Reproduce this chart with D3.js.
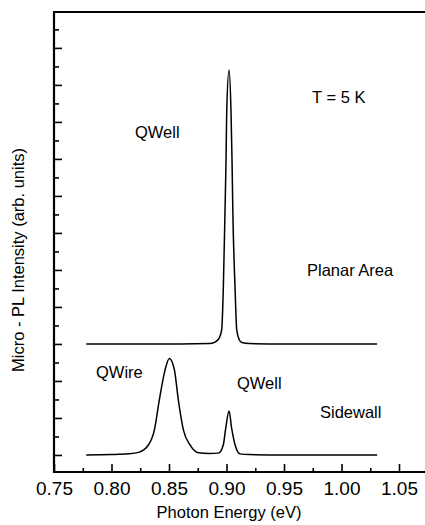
<!DOCTYPE html>
<html>
<head>
<meta charset="utf-8">
<script src="https://cdn.jsdelivr.net/npm/d3@7"></script>
<style>
  body { margin: 0; background: #fff; }
  svg { display: block; font-family: "Liberation Sans", Arial, sans-serif; }
  .axis path { display: none; }
  .axis line { stroke: #000; stroke-width: 1.6; }
  .axis text { font-size: 19px; fill: #000; font-family: "Liberation Sans", Arial, sans-serif; }
</style>
</head>
<body>
<script>
// ---- data ----
// planar area spectrum (energy in eV, intensity in arb. units above its own baseline)
const planarEnergy = [0.778, 0.860, 0.885, 0.890, 0.8935, 0.8958, 0.8972, 0.8987, 0.8996, 0.9002, 0.9022,
    0.9039, 0.9048, 0.9055, 0.9075, 0.9089, 0.911, 0.9133, 0.920, 0.950, 1.031];
const planarIntensity = [0, 0, 0.01, 0.05, 0.15, 0.38, 1.46, 3.6, 4.97, 6.3, 7.4,
    6.3, 4.97, 3.6, 1.46, 0.38, 0.12, 0.04, 0.01, 0, 0];

// sidewall spectrum
const sidewallEnergy = [0.778, 0.800, 0.815, 0.8235, 0.8321, 0.8373, 0.8416, 0.8466, 0.8503, 0.8547, 0.8581,
    0.8625, 0.8683, 0.8755, 0.885, 0.893, 0.8972, 0.8993, 0.9022, 0.9045, 0.9075, 0.9118, 0.920, 0.950, 1.031];
const sidewallIntensity = [0, 0.01, 0.03, 0.07, 0.27, 0.68, 1.49, 2.3, 2.61, 2.3, 1.49,
    0.68, 0.27, 0.06, 0.04, 0.05, 0.27, 0.72, 1.19, 0.72, 0.27, 0.03, 0.01, 0, 0];

const planarOffset = 3;
const sidewallOffset = 0;

const xTicks = [0.75, 0.80, 0.85, 0.90, 0.95, 1.00, 1.05];
const xMinorTicks = [0.775, 0.825, 0.875, 0.925, 0.975, 1.025];

const noteText = ['QWell', 'T = 5 K', 'Planar Area', 'QWire', 'QWell', 'Sidewall'];
const noteEnergy = [0.8204, 0.9744, 0.970, 0.7865, 0.9091, 0.9813];
const noteIntensity = [8.57, 9.52, 4.84, 2.08, 1.78, 1.0];

// ---- layout ----
const outerW = 425,
    outerH = 525;

const svg = d3.select('body').append('svg')
    .attr('width', outerW)
    .attr('height', outerH);

const x = d3.scaleLinear().domain([0.75, 1.05]).range([54, 399]);
const y = d3.scaleLinear().domain([-0.46, 11.97]).range([472, 12]);

// y ticks every 0.5 unit, long ones on whole units
const yMajor = d3.range(0, 12, 1);
const yMinor = d3.range(0.5, 12, 1);

svg.append('g')
    .attr('class', 'axis')
    .attr('transform', 'translate(' + x.range()[0] + ',0)')
    .call(d3.axisLeft(y).tickValues(yMinor).tickSize(-5).tickFormat(''));

svg.append('g')
    .attr('class', 'axis')
    .attr('transform', 'translate(' + x.range()[0] + ',0)')
    .call(d3.axisLeft(y).tickValues(yMajor).tickSize(-8).tickFormat(''));

svg.append('g')
    .attr('class', 'axis')
    .attr('transform', 'translate(0,' + y.range()[0] + ')')
    .call(d3.axisBottom(x).tickValues(xMinorTicks).tickSize(-4).tickFormat(''));

svg.append('g')
    .attr('class', 'axis')
    .attr('transform', 'translate(0,' + y.range()[0] + ')')
    .call(d3.axisBottom(x).tickValues(xTicks).tickSize(-8).tickPadding(10)
        .tickFormat(d3.format('.2f')));

// frame: left, top, bottom (right side is cut off by the picture)
const frameL = x.range()[0], frameT = y.range()[1], frameB = y.range()[0];
svg.append('path')
    .attr('d', 'M' + (outerW + 5) + ',' + frameT + 'H' + frameL + 'V' + frameB + 'H' + (outerW + 5))
    .attr('fill', 'none')
    .attr('stroke', '#000')
    .attr('stroke-width', 2.2);

// spectra
const line = d3.line()
    .x(d => x(d[0]))
    .y(d => y(d[1]))
    .curve(d3.curveMonotoneX);

const spectra = [
    { e: planarEnergy, v: planarIntensity, off: planarOffset },
    { e: sidewallEnergy, v: sidewallIntensity, off: sidewallOffset }
];

svg.selectAll('.spectrum')
    .data(spectra)
    .enter().append('path')
    .attr('class', 'spectrum')
    .attr('d', s => line(s.e.map((e, i) => [e, s.v[i] + s.off])))
    .attr('fill', 'none')
    .attr('stroke', '#000')
    .attr('stroke-width', 1.5);

// annotations
svg.selectAll('.note')
    .data(noteText)
    .enter().append('text')
    .attr('class', 'note')
    .attr('x', (d, i) => x(noteEnergy[i]))
    .attr('y', (d, i) => y(noteIntensity[i]))
    .attr('font-size', 16.5)
    .text(d => d);

// axis titles
svg.append('text')
    .attr('x', 229)
    .attr('y', 518)
    .attr('text-anchor', 'middle')
    .attr('font-size', 16.5)
    .text('Photon Energy (eV)');

svg.append('text')
    .attr('transform', 'translate(24,260) rotate(-90)')
    .attr('text-anchor', 'middle')
    .attr('font-size', 16.5)
    .text('Micro - PL Intensity (arb. units)');
</script>
</body>
</html>
